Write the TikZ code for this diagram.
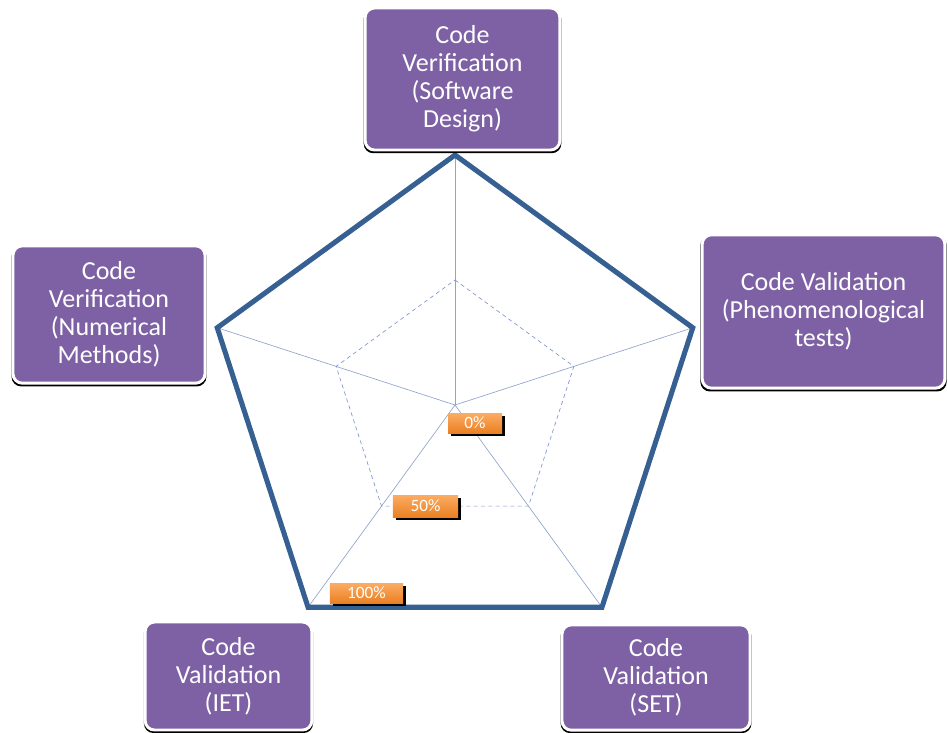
\documentclass[tikz,border=0pt]{standalone}
\usepackage{fontspec}
\setmainfont{Carlito}
\usepackage{tikz}
\usetikzlibrary{shadows}

\definecolor{vpurple}{RGB}{126,97,164}
\definecolor{rimblue}{RGB}{55,96,146}
\definecolor{spokeblue}{RGB}{143,164,204}
\definecolor{pctlight}{RGB}{251,172,100}
\definecolor{pctdark}{RGB}{234,128,34}

\begin{document}
\begin{tikzpicture}[x=0.75pt,y=0.75pt,yscale=-1,xscale=1,
  topic/.style={rounded corners=7pt, fill=vpurple, draw=white, line width=2.2pt,
    text=white, align=center, inner sep=0pt, font=\fontsize{19.5}{21}\selectfont,
    drop shadow={shadow xshift=0pt, shadow yshift=-1.6pt, shadow scale=1.015, fill=black, opacity=1}},
  pct/.style={top color=pctlight, bottom color=pctdark, draw=none, text=white,
    inner sep=0pt, minimum height=15pt, font=\fontsize{13}{14}\selectfont,
    drop shadow={shadow xshift=2.2pt, shadow yshift=-2.2pt, fill=black, opacity=1}},
  spoke/.style={draw=spokeblue, line width=0.5pt},
  half/.style={draw=spokeblue!90!blue, line width=0.5pt, dash pattern=on 3pt off 2.5pt},
  rim/.style={draw=rimblue, line width=3.8pt, line join=miter}]
\useasboundingbox (0,0) rectangle (948,732);

%Centre and corners of the radar
\coordinate (c) at (455,405);
\foreach \i/\a in {1/-90,2/-18,3/54,4/126,5/198}{
  \path (c) ++(\a:250) coordinate (v\i);
  \path (c) ++(\a:125) coordinate (m\i);
}

%Straight Lines: spokes
\foreach \i in {1,...,5}
  \draw [spoke] (c) -- (v\i) ;
%Shape: 50% ring
\draw [half] (m1) -- (m2) -- (m3) -- (m4) -- (m5) -- cycle ;
%Shape: 100% rim
\draw [rim] (v1) -- (v2) -- (v3) -- (v4) -- (v5) -- cycle ;

% Text Node
\node [topic, minimum width=146pt, minimum height=106.5pt] (swdesign) at (462.5,79)
  {Code\\Verification\\(Software\\Design)};
% Text Node
\node [topic, minimum width=182pt, minimum height=115pt] (pheno) at (823.5,311.5)
  {Code Validation\\(Phenomenological\\tests)};
% Text Node
\node [topic, minimum width=141pt, minimum height=79pt] (set) at (656,677.5)
  {Code\\Validation\\(SET)};
% Text Node
\node [topic, minimum width=125pt, minimum height=81pt] (iet) at (228.5,676)
  {Code\\Validation\\(IET)};
% Text Node
\node [topic, minimum width=144pt, minimum height=103pt] (nummeth) at (109,314.5)
  {Code\\Verification\\(Numerical\\Methods)};

% Text Node: scale labels
\node [pct, minimum width=40.5pt] (pzero) at (475,423) {0\%};
\node [pct, minimum width=49pt, minimum height=16.5pt] (phalf) at (425.5,506) {50\%};
\node [pct, minimum width=55pt] (pfull) at (366.5,593) {100\%};

\end{tikzpicture}
\end{document}
